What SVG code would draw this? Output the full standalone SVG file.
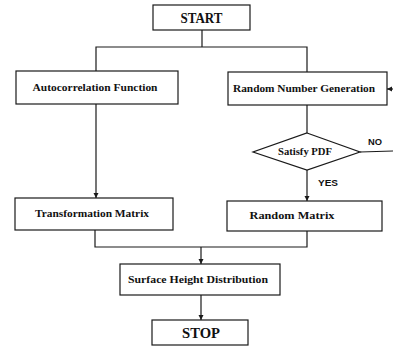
<svg xmlns="http://www.w3.org/2000/svg" width="393" height="349" viewBox="0 0 393 349">
<style>
.box{fill:#fff;stroke:#1a1a1a;stroke-width:1.2}
.ln{fill:none;stroke:#1a1a1a;stroke-width:1.2}
.t{font-family:"Liberation Serif","Times New Roman",serif;font-weight:bold;fill:#111;text-anchor:middle}
.s{font-size:11px}
.b{font-size:14px}
.sm{font-size:9px;font-family:"Liberation Sans",Arial,sans-serif;font-weight:bold;fill:#111}
</style>
<defs>
<marker id="ah" markerWidth="6" markerHeight="6" refX="5" refY="3" orient="auto" markerUnits="userSpaceOnUse">
<path d="M0,0.5 L5,3 L0,5.5 Z" fill="#1a1a1a"/>
</marker>
</defs>
<rect width="393" height="349" fill="#fff"/>
<g id="connectors">
<path class="ln" d="M202,30 V47"/>
<path class="ln" d="M96,71 V47 H307 V72"/>
<path class="ln" d="M96,104 V198" marker-end="url(#ah)"/>
<path class="ln" d="M307,105 V133"/>
<path class="ln" d="M307,170 V201" marker-end="url(#ah)"/>
<path class="ln" d="M360,152 L393,151"/>
<path class="ln" d="M393,89 H387" marker-end="url(#ah)"/>
<path class="ln" d="M95,230 V247 H307 V231"/>
<path class="ln" d="M201,247 V264" marker-end="url(#ah)"/>
<path class="ln" d="M201,295 V320" marker-end="url(#ah)"/>
<text class="sm" x="368" y="145" textLength="14" lengthAdjust="spacingAndGlyphs">NO</text>
<text class="sm" x="318" y="186" textLength="20" lengthAdjust="spacingAndGlyphs">YES</text>
</g>
<g id="start">
<rect class="box" x="153" y="5" width="97" height="25"/>
<text class="t b" x="201.5" y="23" textLength="42" lengthAdjust="spacingAndGlyphs">START</text>
</g>
<g id="autocorrelation">
<rect class="box" x="16" y="71" width="162" height="33"/>
<text class="t s" x="95" y="91" textLength="125" lengthAdjust="spacingAndGlyphs">Autocorrelation  Function</text>
</g>
<g id="random-number">
<rect class="box" x="228" y="72" width="159" height="33"/>
<text class="t s" x="304" y="92" textLength="142" lengthAdjust="spacingAndGlyphs">Random Number Generation</text>
</g>
<g id="satisfy-pdf">
<polygon class="box" points="307,133 360,152 307,170 253,152"/>
<text class="t s" x="305" y="155" textLength="54" lengthAdjust="spacingAndGlyphs">Satisfy PDF</text>
</g>
<g id="transformation-matrix">
<rect class="box" x="15" y="198" width="158" height="32"/>
<text class="t s" x="92" y="217" textLength="114" lengthAdjust="spacingAndGlyphs">Transformation Matrix</text>
</g>
<g id="random-matrix">
<rect class="box" x="227" y="201" width="155" height="30"/>
<text class="t s" x="292" y="219" textLength="85" lengthAdjust="spacingAndGlyphs">Random Matrix</text>
</g>
<g id="surface-height">
<rect class="box" x="120" y="264" width="160" height="31"/>
<text class="t s" x="198" y="283" textLength="140" lengthAdjust="spacingAndGlyphs">Surface Height Distribution</text>
</g>
<g id="stop">
<rect class="box" x="152" y="320" width="96" height="25"/>
<text class="t b" x="201" y="338" textLength="38" lengthAdjust="spacingAndGlyphs">STOP</text>
</g>
</svg>
